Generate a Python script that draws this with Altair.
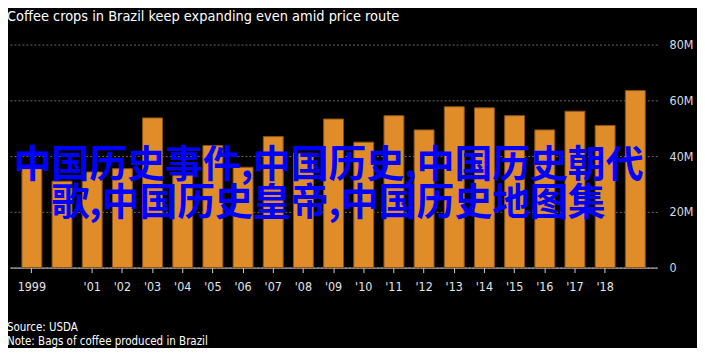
import altair as alt
import pandas as pd

# ---- data ----
years = ["1999", "2000", "2001", "2002", "2003", "2004", "2005", "2006", "2007", "2008",
         "2009", "2010", "2011", "2012", "2013", "2014", "2015", "2016", "2017", "2018", "2019"]
crops = [35.5, 31.0, 34.3, 35.5, 53.7, 33.0, 43.8, 36.0, 47.0, 41.0,
         53.3, 45.0, 54.5, 49.4, 57.7, 57.3, 54.5, 49.4, 56.1, 51.0, 63.5]
tick_years = ["1999", "2001", "2002", "2003", "2004", "2005", "2006", "2007", "2008",
              "2009", "2010", "2011", "2012", "2013", "2014", "2015", "2016", "2017", "2018"]
y_ticks = [0, 20, 40, 60, 80]
title_text = ["Coffee crops in Brazil keep expanding even amid price route"]
source_text = ["Source: USDA"]
note_text = ["Note: Bags of coffee produced in Brazil"]
watermark = ["中国历史事件,中国历史,中国历史朝代\n歌,中国历史皇帝,中国历史地图集"]

FONT = "DejaVu Sans Condensed, Liberation Sans, sans-serif"

df = pd.DataFrame({"year": years, "crop": crops})

bars = alt.Chart(df).mark_bar(color="#e08c28", stroke="#8a5316", strokeWidth=1).encode(
    x=alt.X(
        "year:O",
        scale=alt.Scale(paddingInner=0.34, paddingOuter=0.395),
        axis=alt.Axis(
            values=tick_years,
            labelExpr="datum.value == '1999' ? '1999' : \"'\" + substring(datum.value, 2, 4)",
            title=None, labelAngle=0, domainColor="#cccccc", tickColor="#cccccc",
            tickSize=5, labelColor="#e6e6e6", labelFont=FONT, labelFontSize=12.5,
            labelPadding=8, grid=False,
        ),
    ),
    y=alt.Y(
        "crop:Q",
        scale=alt.Scale(domain=[0, 80], nice=False),
        axis=alt.Axis(
            orient="right", values=y_ticks,
            labelExpr="datum.value == 0 ? '0' : datum.value + 'M'",
            title=None, domain=False, ticks=False, grid=True, gridColor="#6a6a6a",
            gridDash=[2, 2], gridWidth=1, labelColor="#d4dce6", labelFont=FONT,
            labelFontSize=12.5, labelPadding=12,
        ),
    ),
)

title_layer = alt.Chart(pd.DataFrame({"t": title_text})).mark_text(
    align="left", baseline="alphabetic", font=FONT, fontSize=14.5, color="#ffffff"
).encode(x=alt.value(-3), y=alt.value(-24), text="t:N")

source_layer = alt.Chart(pd.DataFrame({"t": source_text})).mark_text(
    align="left", baseline="alphabetic", font=FONT, fontSize=11.5, color="#ffffff"
).encode(x=alt.value(-3), y=alt.value(288), text="t:N")

note_layer = alt.Chart(pd.DataFrame({"t": note_text})).mark_text(
    align="left", baseline="alphabetic", font=FONT, fontSize=11.5, color="#ffffff"
).encode(x=alt.value(-3), y=alt.value(302), text="t:N")

wm_layer = alt.Chart(pd.DataFrame({"t": watermark})).mark_text(
    align="center", baseline="middle", lineBreak="\n", lineHeight=38,
    font="Noto Sans CJK SC", fontWeight="bold", fontSize=38, color="#0000ff"
).encode(x=alt.value(320), y=alt.value(122), text="t:N")

chart = alt.layer(bars, title_layer, source_layer, note_layer, wm_layer).properties(
    width=650, height=224,
    padding={"left": 2, "top": 36, "right": 40, "bottom": 80},
    autosize=alt.AutoSizeParams(type="none"),
).configure(background="#000000").configure_view(stroke=None)

chart.save("out.html", embed_options={"renderer": "svg", "actions": False})
